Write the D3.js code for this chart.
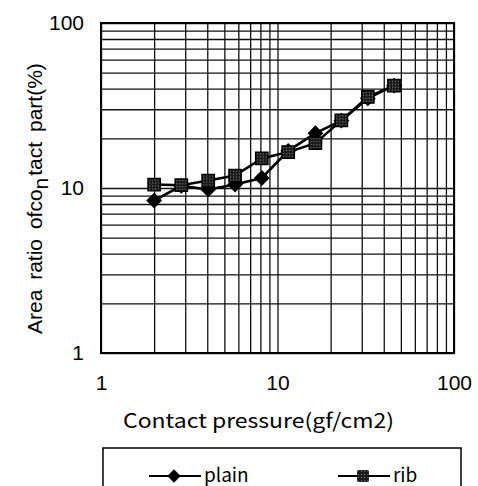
<!DOCTYPE html>
<html>
<head>
<meta charset="utf-8">
<script src="https://cdn.jsdelivr.net/npm/d3@7"></script>
<style>
  body { margin: 0; background: #fff; }
  #wrapper svg { display: block; }
  .grid line { stroke: #111; stroke-width: 1.3; }
  .grid path { display: none; }
  .tick-labels path, .tick-labels line { display: none; }
  .tick-labels text { font-family: "Liberation Sans", Arial, sans-serif; font-size: 21px; fill: #000; }
</style>
</head>
<body>
<div id="wrapper"></div>
<script>
// data
const pressure = [2, 2.85, 4.05, 5.75, 8.15, 11.5, 16.4, 23, 32.5, 45.7];
const plainArea = [8.4, 10.3, 9.8, 10.5, 11.5, 16.8, 21.5, 25.6, 35, 41.7];
const ribArea = [10.5, 10.4, 11.1, 11.9, 15.1, 16.5, 18.7, 25.7, 35.7, 41.7];
const seriesNames = ["plain", "rib"];
const tickValues = [1, 10, 100];
const gridValues = [1, 2, 3, 4, 5, 6, 7, 8, 9, 10, 20, 30, 40, 50, 60, 70, 80, 90, 100];

function drawChart() {
  // define dimensions
  let dimensions = {
    width: 478,
    height: 486,
    margin: { top: 23, right: 24, bottom: 133, left: 101 },
  };
  dimensions.plotWidth =
    dimensions.width - dimensions.margin.left - dimensions.margin.right;
  dimensions.plotHeight =
    dimensions.height - dimensions.margin.top - dimensions.margin.bottom;

  // draw chart and plot areas
  const chart = d3
    .select("#wrapper")
    .append("svg")
    .attr("width", dimensions.width)
    .attr("height", dimensions.height);

  // dotted fill for the square markers
  const pattern = chart
    .append("defs")
    .append("pattern")
    .attr("id", "dots")
    .attr("width", 3)
    .attr("height", 3)
    .attr("patternUnits", "userSpaceOnUse");
  pattern.append("rect").attr("width", 3).attr("height", 3).attr("fill", "#1c1c1c");
  pattern.append("rect").attr("x", 1).attr("y", 1).attr("width", 1).attr("height", 1).attr("fill", "#8a8a8a");

  const plot = chart
    .append("g")
    .attr("transform", `translate(${dimensions.margin.left}, ${dimensions.margin.top})`);

  // define scales
  const xScale = d3.scaleLog().domain([1, 100]).range([0, dimensions.plotWidth]);
  const yScale = d3.scaleLog().domain([1, 100]).range([dimensions.plotHeight, 0]);

  // grid lines
  plot
    .append("g")
    .attr("class", "grid")
    .attr("transform", `translate(0, ${dimensions.plotHeight})`)
    .call(
      d3.axisBottom(xScale).tickValues(gridValues).tickSize(-dimensions.plotHeight).tickFormat("")
    );
  plot
    .append("g")
    .attr("class", "grid")
    .call(
      d3.axisLeft(yScale).tickValues(gridValues).tickSize(-dimensions.plotWidth).tickFormat("")
    );

  plot
    .append("rect")
    .attr("width", dimensions.plotWidth)
    .attr("height", dimensions.plotHeight)
    .attr("fill", "none")
    .attr("stroke", "#000")
    .attr("stroke-width", 2);

  // tick labels
  plot
    .append("g")
    .attr("class", "tick-labels")
    .attr("transform", `translate(0, ${dimensions.plotHeight})`)
    .call(d3.axisBottom(xScale).tickValues(tickValues).tickSize(0).tickPadding(22).tickFormat(d3.format("d")));
  plot
    .append("g")
    .attr("class", "tick-labels")
    .call(d3.axisLeft(yScale).tickValues(tickValues).tickSize(0).tickPadding(17).tickFormat(d3.format("d")));

  // axis titles
  chart
    .append("text")
    .attr("x", 123)
    .attr("y", 428)
    .attr("textLength", 271)
    .attr("lengthAdjust", "spacingAndGlyphs")
    .style("font-family", '"Noto Sans CJK JP", sans-serif')
    .style("font-size", "20px")
    .text("Contact pressure(gf/cm2)");

  const yTitle = chart
    .append("text")
    .attr("transform", "translate(42, 334) rotate(-90)")
    .style("font-family", '"Liberation Sans", Arial, sans-serif')
    .style("font-size", "21px")
    .style("word-spacing", "4px");
  yTitle.append("tspan").text("Area ratio ofco");
  yTitle.append("tspan").attr("dy", 6).text("n");
  yTitle.append("tspan").attr("dy", -6).attr("dx", 2).text("tact part(%)");

  // series
  const series = [
    { name: seriesNames[0], values: plainArea, symbol: d3.symbolDiamond2, fill: "#000" },
    { name: seriesNames[1], values: ribArea, symbol: d3.symbolSquare, fill: "url(#dots)" },
  ];

  const lineGenerator = d3
    .line()
    .x((d, i) => xScale(pressure[i]))
    .y((d) => yScale(d));

  series.forEach((s) => {
    plot
      .append("path")
      .attr("d", lineGenerator(s.values))
      .attr("fill", "none")
      .attr("stroke", "#000")
      .attr("stroke-width", 2.6);
  });

  const symbolSize = { [seriesNames[0]]: 120, [seriesNames[1]]: 150 };
  series.forEach((s) => {
    plot
      .selectAll(`.marker-${s.name}`)
      .data(s.values)
      .enter()
      .append("path")
      .attr("class", `marker-${s.name}`)
      .attr("transform", (d, i) => `translate(${xScale(pressure[i])}, ${yScale(d)})`)
      .attr("d", d3.symbol(s.symbol, symbolSize[s.name]))
      .attr("fill", s.fill)
      .attr("stroke", "#000")
      .attr("stroke-width", 1.5);
  });

  // legend (its lower edge runs past the bottom of the picture)
  const legend = chart.append("g").attr("transform", "translate(103, 448)");
  legend
    .append("rect")
    .attr("width", 358)
    .attr("height", 50)
    .attr("fill", "none")
    .attr("stroke", "#000")
    .attr("stroke-width", 1.5);

  const legendItems = legend
    .selectAll(".legend-item")
    .data(series)
    .enter()
    .append("g")
    .attr("class", "legend-item")
    .attr("transform", (d, i) => `translate(${46 + i * 189}, 28)`);
  legendItems
    .append("line")
    .attr("x1", 0)
    .attr("x2", 52)
    .attr("stroke", "#000")
    .attr("stroke-width", 2);
  legendItems
    .append("path")
    .attr("transform", "translate(25, 0)")
    .attr("d", (d) => d3.symbol(d.symbol, d.name === "plain" ? 100 : 110)())
    .attr("fill", (d) => d.fill)
    .attr("stroke", "#000")
    .attr("stroke-width", 1);
  legendItems
    .append("text")
    .attr("x", 55)
    .attr("y", 6)
    .style("font-family", '"Noto Sans CJK JP", sans-serif')
    .style("font-size", "19px")
    .text((d) => d.name);
}
drawChart();
</script>
</body>
</html>
